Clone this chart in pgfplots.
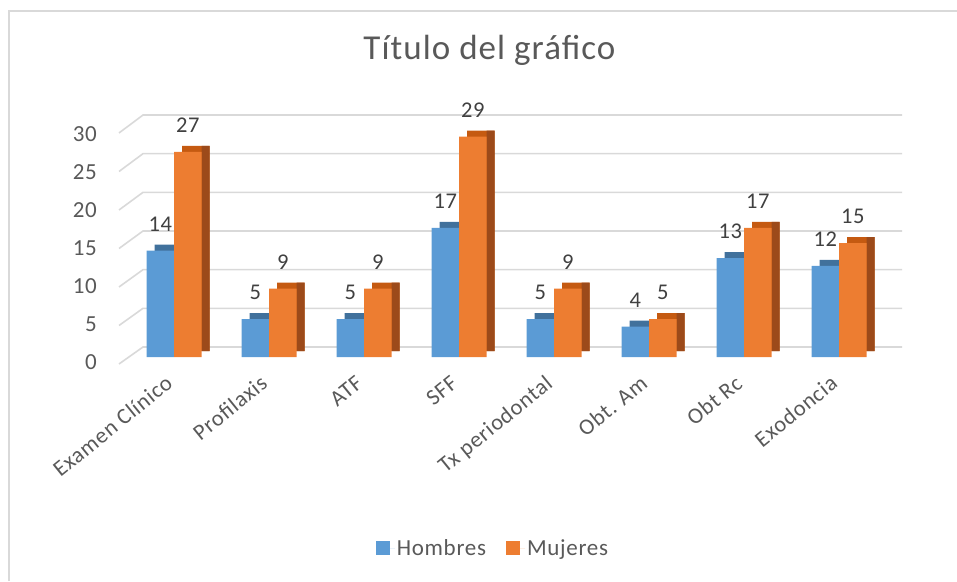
\documentclass[border=0pt]{standalone}
\usepackage{pgfplots}
\pgfplotsset{compat=1.18}
\usepackage{pgfplotstable}
\usepackage{fontspec}
\setmainfont{Carlito}[LetterSpace=3]
\newfontfamily\titlefont{Carlito}[LetterSpace=3]
\definecolor{cblue}{HTML}{5B9BD5}
\definecolor{cblueTop}{HTML}{41719C}
\definecolor{cblueSide}{HTML}{335F88}
\definecolor{corange}{HTML}{ED7D31}
\definecolor{corangeTop}{HTML}{C55A11}
\definecolor{corangeSide}{HTML}{9C4A1A}
\definecolor{gridc}{HTML}{D9D9D9}
\definecolor{framec}{HTML}{D9D9D9}
\definecolor{txt}{HTML}{595959}
\definecolor{lbl}{HTML}{404040}

\pgfplotstableread{
x h m
0 14 27
1 5 9
2 5 9
3 17 29
4 5 9
5 4 5
6 13 17
7 12 15
}\datatable

\begin{document}
\begin{tikzpicture}[x=1pt,y=1pt]
% chart frame (left and top edges visible)
\draw[framec, line width=2pt] (9,0) -- (9,570) -- (960,570);
% title
\node[anchor=base, text=txt, font=\titlefont\fontsize{35}{41}\selectfont] at (489.5,521) {Título del gráfico};
% 3D gridlines (decoration)
\foreach \v in {0,5,...,30}{
  \pgfmathsetmacro{\fy}{581-(364-7.7*\v)}
  \pgfmathsetmacro{\by}{581-(347-7.733*\v)}
  \draw[gridc, line width=1.6pt] (119,\fy) -- (143,\by) -- (902,\by);
}
\begin{axis}[
  at={(126.5pt,224pt)}, anchor=south west,
  scale only axis, width=760pt, height=228pt,
  ybar, bar width=27.5pt,
  xmin=-0.5, xmax=7.5, ymin=0, ymax=30,
  enlargelimits=false, clip=false,
  axis line style={draw=none}, major tick length=0pt,
  xtick={0,...,7},
  xticklabels={Examen Clínico,Profilaxis,ATF,SFF,Tx periodontal,Obt. Am,Obt Rc,Exodoncia},
  ytick={0,5,...,30},
  /pgf/number format/assume math mode=true,
  tick label style={font=\fontsize{23}{27}\selectfont, text=txt},
  yticklabel style={anchor=east, inner sep=0pt, xshift=-29.5pt, yshift=-5pt},
  xticklabel style={font=\fontsize{22.5}{27}\selectfont, anchor=base east, inner sep=0pt, xshift=0pt, yshift=-29pt, rotate=39},
  legend style={at={(0.4822,-0.8377)}, anchor=center, draw=none, fill=none,
    font=\fontsize{23}{27}\selectfont, text=txt, legend columns=2,
    /tikz/every even column/.append style={column sep=18pt}},
  nodes near coords style={font=\fontsize{22.5}{27}\selectfont, text=lbl, inner sep=0pt, anchor=south, yshift=19pt},
]
% Hombres: top face, side face, front face
\addplot[fill=cblueTop, draw=none, bar shift=-13.75pt, xshift=8pt, yshift=6pt, forget plot] table[x=x,y=h]{\datatable};
\addplot[fill=cblueSide, draw=none, bar width=8pt, bar shift=4pt, yshift=6pt, forget plot] table[x=x,y=h]{\datatable};
\addplot[fill=cblue, draw=none, bar shift=-13.75pt, nodes near coords,
  legend image code/.code={\fill[cblue] (0pt,-7pt) rectangle (14pt,7pt); \path (14pt,0pt) -- (19pt,0pt);}] table[x=x,y=h]{\datatable};
\addlegendentry{Hombres}
% Mujeres
\addplot[fill=corangeTop, draw=none, bar shift=13.75pt, xshift=8pt, yshift=6pt, forget plot] table[x=x,y=m]{\datatable};
\addplot[fill=corangeSide, draw=none, bar width=8pt, bar shift=31.5pt, yshift=6pt, forget plot] table[x=x,y=m]{\datatable};
\addplot[fill=corange, draw=none, bar shift=13.75pt, nodes near coords,
  legend image code/.code={\fill[corange] (0pt,-7pt) rectangle (14pt,7pt); \path (14pt,0pt) -- (19pt,0pt);}] table[x=x,y=m]{\datatable};
\addlegendentry{Mujeres}
\end{axis}
\pgfresetboundingbox
\path[use as bounding box] (0,0) rectangle (957,581);
\end{tikzpicture}
\end{document}
